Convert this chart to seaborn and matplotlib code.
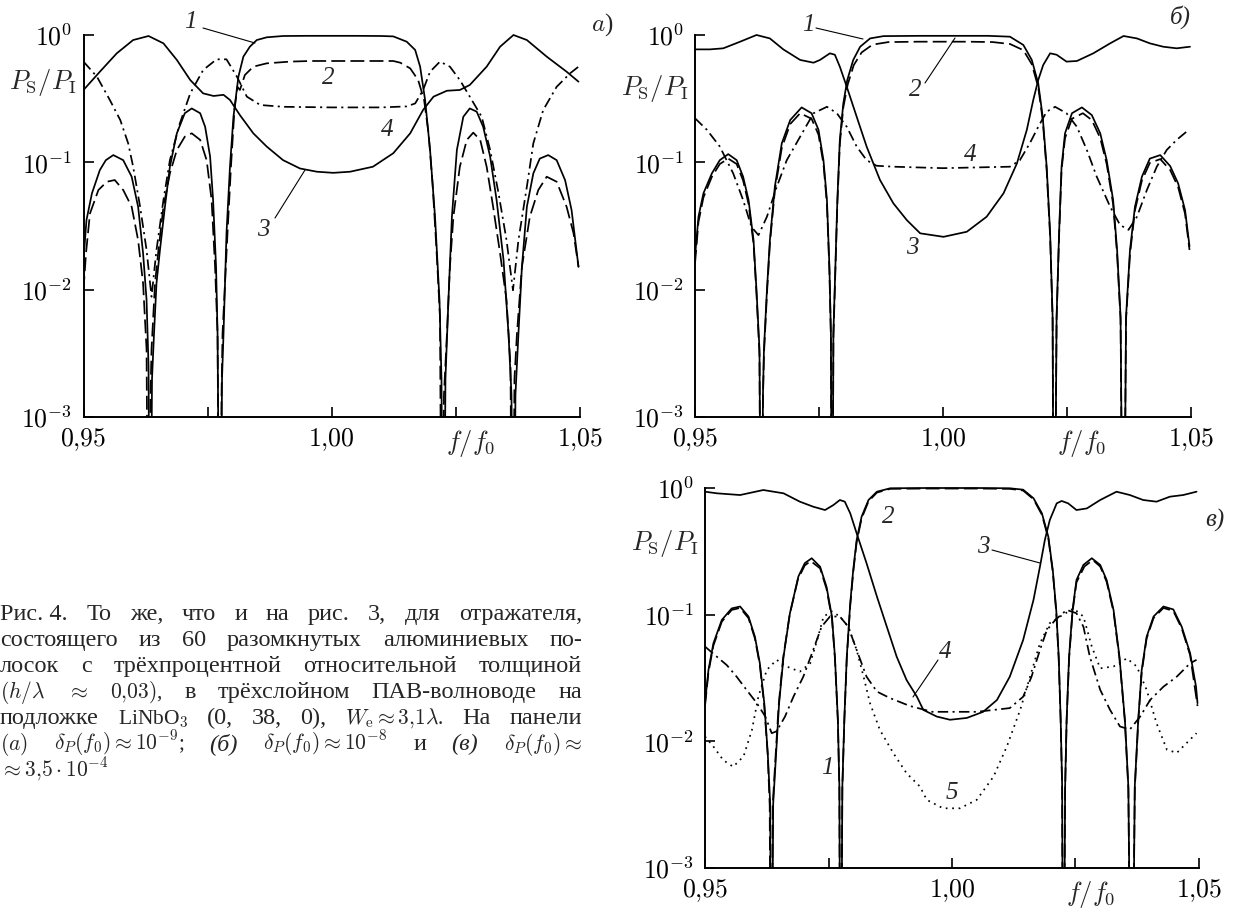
import matplotlib
matplotlib.use("Agg")
import matplotlib.pyplot as plt
import pandas as pd
import seaborn as sns
from matplotlib.lines import Line2D
from matplotlib.ticker import NullLocator


W, H = 1235, 914

##############################################################################
# DATA  (f / f0 , P_S / P_I)
##############################################################################

# panel a
A1 = [(0.9500, 0.0171), (0.9506, 0.0352), (0.9517, 0.0571), (0.9533, 0.0871), (0.9545, 0.104),
      (0.9560, 0.114), (0.9580, 0.104), (0.9597, 0.0771), (0.9610, 0.0448), (0.9620, 0.0193),
      (0.9627, 0.0083), (0.9631, 0.0025), (0.9634, 1e-5), (0.9638, 0.0020), (0.9642, 0.0045),
      (0.9647, 0.0112), (0.9654, 0.0205), (0.9664, 0.0448), (0.9674, 0.0924), (0.9688, 0.169),
      (0.9704, 0.243), (0.9718, 0.265), (0.9735, 0.243), (0.9745, 0.190), (0.9755, 0.111),
      (0.9761, 0.0506), (0.9767, 0.0151), (0.9770, 0.0045), (0.9775, 1e-5), (0.9779, 0.0020),
      (0.9782, 0.0045), (0.9785, 0.0112), (0.9788, 0.0277), (0.9795, 0.0924), (0.9802, 0.228),
      (0.9812, 0.471), (0.9822, 0.676), (0.9835, 0.809), (0.9849, 0.913), (0.9869, 0.959),
      (0.9902, 0.982), (0.9950, 0.985), (1.0000, 0.985), (1.0050, 0.985), (1.0100, 0.982),
      (1.0124, 0.975), (1.0151, 0.886), (1.0168, 0.763), (1.0178, 0.564), (1.0188, 0.309),
      (1.0198, 0.125), (1.0208, 0.0374), (1.0217, 0.0083), (1.0221, 0.0020), (1.0225, 1e-5),
      (1.0229, 0.0020), (1.0235, 0.0083), (1.0242, 0.0374), (1.0252, 0.125), (1.0265, 0.228),
      (1.0278, 0.265), (1.0292, 0.250), (1.0305, 0.190), (1.0319, 0.111), (1.0332, 0.0506),
      (1.0346, 0.0171), (1.0356, 0.0045), (1.0362, 0.0015), (1.0366, 1e-5), (1.0370, 0.0015),
      (1.0376, 0.0045), (1.0383, 0.0151), (1.0393, 0.0448), (1.0406, 0.0819), (1.0419, 0.107),
      (1.0436, 0.114), (1.0453, 0.104), (1.0470, 0.0724), (1.0483, 0.0422), (1.0497, 0.0151)]

A2 = [(0.9500, 0.0099), (0.9505, 0.0193), (0.9513, 0.0396), (0.9530, 0.0606), (0.9547, 0.0704),
      (0.9563, 0.0726), (0.9580, 0.0606), (0.9597, 0.0448), (0.9610, 0.0245), (0.9620, 0.0112),
      (0.9627, 0.0034), (0.9631, 1e-5), (0.9635, 0.0015), (0.9637, 0.0034), (0.9644, 0.0112),
      (0.9651, 0.0205), (0.9661, 0.0448), (0.9674, 0.0819), (0.9688, 0.125), (0.9704, 0.159),
      (0.9718, 0.169), (0.9735, 0.150), (0.9748, 0.104), (0.9758, 0.0506), (0.9765, 0.0151),
      (0.9770, 0.0045), (0.9774, 1e-5), (0.9778, 0.0015), (0.9780, 0.0045), (0.9785, 0.0112),
      (0.9790, 0.0277), (0.9797, 0.0924), (0.9804, 0.258), (0.9810, 0.392), (0.9815, 0.370),
      (0.9825, 0.485), (0.9842, 0.564), (0.9869, 0.599), (0.9916, 0.618), (0.9957, 0.625),
      (1.0050, 0.625), (1.0124, 0.625), (1.0138, 0.606), (1.0158, 0.547), (1.0174, 0.443),
      (1.0186, 0.309), (1.0195, 0.169), (1.0203, 0.0684), (1.0211, 0.0205), (1.0218, 0.0061),
      (1.0222, 1e-5), (1.0226, 0.0015), (1.0232, 0.0045), (1.0238, 0.0151), (1.0245, 0.0374),
      (1.0258, 0.0924), (1.0272, 0.150), (1.0285, 0.171), (1.0299, 0.150), (1.0312, 0.0924),
      (1.0325, 0.0448), (1.0339, 0.0193), (1.0352, 0.0083), (1.0360, 0.0025), (1.0364, 1e-5),
      (1.0368, 0.0020), (1.0373, 0.0045), (1.0383, 0.0151), (1.0399, 0.0374), (1.0416, 0.0606),
      (1.0433, 0.0771), (1.0453, 0.0704), (1.0473, 0.0448), (1.0487, 0.0277), (1.0497, 0.0151)]

A3 = [(0.9500, 0.370), (0.9533, 0.515), (0.9567, 0.718), (0.9600, 0.913), (0.9631, 0.982),
      (0.9661, 0.860), (0.9688, 0.637), (0.9715, 0.443), (0.9741, 0.348), (0.9762, 0.332),
      (0.9782, 0.339), (0.9795, 0.309), (0.9815, 0.235), (0.9842, 0.169), (0.9869, 0.133),
      (0.9902, 0.104), (0.9936, 0.0895), (0.9970, 0.0844), (1.0003, 0.0827), (1.0037, 0.0844),
      (1.0083, 0.0924), (1.0124, 0.118), (1.0158, 0.169), (1.0184, 0.258), (1.0205, 0.328),
      (1.0232, 0.365), (1.0258, 0.370), (1.0278, 0.405), (1.0312, 0.564), (1.0339, 0.809),
      (1.0366, 1.000), (1.0393, 0.913), (1.0433, 0.676), (1.0473, 0.515), (1.0497, 0.430)]

A4 = [(0.9500, 0.618), (0.9527, 0.471), (0.9553, 0.309), (0.9574, 0.215), (0.9590, 0.141),
      (0.9600, 0.0924), (0.9614, 0.0448), (0.9627, 0.0205), (0.9637, 0.0088), (0.9647, 0.0205),
      (0.9661, 0.0506), (0.9674, 0.104), (0.9694, 0.202), (0.9715, 0.348), (0.9741, 0.531),
      (0.9768, 0.644), (0.9788, 0.644), (0.9809, 0.471), (0.9829, 0.328), (0.9856, 0.282),
      (0.9902, 0.273), (1.0000, 0.270), (1.0100, 0.270), (1.0151, 0.275), (1.0168, 0.290),
      (1.0184, 0.370), (1.0198, 0.515), (1.0218, 0.618), (1.0238, 0.564), (1.0258, 0.443),
      (1.0278, 0.328), (1.0302, 0.228), (1.0319, 0.125), (1.0336, 0.057), (1.0352, 0.0245),
      (1.0365, 0.0099), (1.0376, 0.0245), (1.0393, 0.0645), (1.0406, 0.141), (1.0426, 0.258),
      (1.0453, 0.392), (1.0480, 0.500), (1.0497, 0.564)]

# panel б
B1 = [(0.9500, 0.0181), (0.9507, 0.0374), (0.9517, 0.0571), (0.9534, 0.0819), (0.9550, 0.104),
      (0.9567, 0.116), (0.9584, 0.104), (0.9597, 0.0771), (0.9608, 0.0506), (0.9618, 0.0245),
      (0.9624, 0.0099), (0.9630, 0.0034), (0.9634, 1e-5), (0.9637, 0.0015), (0.9639, 0.0034),
      (0.9645, 0.0099), (0.9651, 0.0245), (0.9661, 0.0645), (0.9675, 0.141), (0.9692, 0.215),
      (0.9715, 0.270), (0.9735, 0.243), (0.9749, 0.180), (0.9759, 0.104), (0.9766, 0.0506),
      (0.9771, 0.0151), (0.9774, 0.0045), (0.97765, 1e-5), (0.9779, 0.0045), (0.9783, 0.0151),
      (0.9787, 0.0506), (0.9792, 0.150), (0.9799, 0.290), (0.9807, 0.443), (0.9819, 0.637),
      (0.9833, 0.809), (0.9853, 0.940), (0.9880, 0.980), (0.9950, 0.985), (1.0050, 0.985),
      (1.0091, 0.985), (1.0135, 0.970), (1.0162, 0.835), (1.0179, 0.637), (1.0192, 0.417),
      (1.0201, 0.228), (1.0209, 0.0924), (1.0216, 0.0277), (1.0221, 0.0061), (1.0224, 1e-5),
      (1.0229, 0.0061), (1.0234, 0.0277), (1.0239, 0.0924), (1.0246, 0.169), (1.0260, 0.243),
      (1.0280, 0.270), (1.0300, 0.235), (1.0317, 0.169), (1.0330, 0.104), (1.0343, 0.0506),
      (1.0351, 0.0205), (1.0358, 0.0061), (1.0364, 1e-5), (1.0369, 0.0061), (1.0377, 0.0205),
      (1.0387, 0.0448), (1.0401, 0.0771), (1.0417, 0.107), (1.0438, 0.114), (1.0458, 0.0935),
      (1.0474, 0.0684), (1.0488, 0.0422), (1.0497, 0.0219)]

B2 = [(0.9500, 0.0160), (0.9507, 0.0340), (0.9517, 0.0530), (0.9534, 0.0770), (0.9550, 0.0970),
      (0.9567, 0.107), (0.9584, 0.0970), (0.9597, 0.0720), (0.9608, 0.0470), (0.9618, 0.0230),
      (0.9624, 0.0092), (0.9630, 0.0031), (0.9633, 1e-5), (0.9637, 0.0014), (0.9639, 0.0031),
      (0.9645, 0.0092), (0.9651, 0.0230), (0.9661, 0.0600), (0.9675, 0.130), (0.9692, 0.200),
      (0.9712, 0.243), (0.9735, 0.220), (0.9749, 0.165), (0.9759, 0.097), (0.9766, 0.0470),
      (0.9771, 0.0140), (0.9774, 0.0042), (0.97763, 1e-5), (0.9779, 0.0042), (0.9783, 0.0140),
      (0.9787, 0.0470), (0.9792, 0.140), (0.9799, 0.270), (0.9808, 0.410), (0.9820, 0.580),
      (0.9836, 0.730), (0.9858, 0.840), (0.9890, 0.880), (0.9950, 0.886), (1.0050, 0.886),
      (1.0100, 0.880), (1.0135, 0.850), (1.0162, 0.760), (1.0179, 0.590), (1.0192, 0.390),
      (1.0201, 0.215), (1.0209, 0.087), (1.0216, 0.026), (1.0221, 0.0058), (1.02237, 1e-5),
      (1.0229, 0.0058), (1.0234, 0.026), (1.0239, 0.087), (1.0246, 0.155), (1.0260, 0.220),
      (1.0282, 0.243), (1.0300, 0.215), (1.0317, 0.155), (1.0330, 0.097), (1.0343, 0.0470),
      (1.0351, 0.0190), (1.0358, 0.0058), (1.03635, 1e-5), (1.0369, 0.0058), (1.0377, 0.0190),
      (1.0387, 0.0420), (1.0401, 0.0720), (1.0417, 0.0990), (1.0438, 0.106), (1.0458, 0.0870),
      (1.0474, 0.0640), (1.0488, 0.0395), (1.0497, 0.0205)]

B3 = [(0.9500, 0.771), (0.9530, 0.771), (0.9557, 0.786), (0.9591, 0.886), (0.9624, 1.000),
      (0.9651, 0.940), (0.9678, 0.771), (0.9712, 0.637), (0.9739, 0.606), (0.9752, 0.637),
      (0.9772, 0.718), (0.9782, 0.700), (0.9792, 0.564), (0.9806, 0.392), (0.9826, 0.228),
      (0.9846, 0.133), (0.9873, 0.0726), (0.9900, 0.0476), (0.9927, 0.0352), (0.9954, 0.0277),
      (1.0001, 0.0260), (1.0048, 0.0285), (1.0088, 0.0374), (1.0122, 0.0571), (1.0149, 0.098),
      (1.0169, 0.180), (1.0182, 0.309), (1.0192, 0.443), (1.0202, 0.581), (1.0216, 0.718),
      (1.0229, 0.700), (1.0249, 0.618), (1.0270, 0.625), (1.0303, 0.718), (1.0337, 0.860),
      (1.0364, 0.982), (1.0391, 0.940), (1.0417, 0.860), (1.0444, 0.809), (1.0471, 0.786),
      (1.0498, 0.809)]

B4 = [(0.9500, 0.222), (0.9524, 0.180), (0.9550, 0.133), (0.9577, 0.0819), (0.9597, 0.0506),
      (0.9614, 0.031), (0.9628, 0.0268), (0.9645, 0.0374), (0.9665, 0.0645), (0.9685, 0.104),
      (0.9712, 0.159), (0.9739, 0.243), (0.9766, 0.273), (0.9786, 0.243), (0.9806, 0.190),
      (0.9826, 0.133), (0.9846, 0.104), (0.9866, 0.094), (0.9900, 0.0924), (1.0000, 0.0900),
      (1.0135, 0.0924), (1.0155, 0.104), (1.0175, 0.141), (1.0192, 0.190), (1.0209, 0.250),
      (1.0226, 0.273), (1.0249, 0.243), (1.0270, 0.190), (1.0290, 0.125), (1.0310, 0.0771),
      (1.0337, 0.0448), (1.0357, 0.0322), (1.0374, 0.0295), (1.0391, 0.0374), (1.0411, 0.0606),
      (1.0431, 0.0924), (1.0451, 0.125), (1.0471, 0.150), (1.0491, 0.174)]

# panel в
C1 = [(0.9500, 0.0200), (0.9507, 0.0366), (0.9517, 0.0594), (0.9534, 0.0908), (0.9554, 0.112),
      (0.9571, 0.116), (0.9588, 0.0967), (0.9601, 0.0670), (0.9611, 0.0413), (0.9620, 0.0200),
      (0.9627, 0.0081), (0.9632, 0.0032), (0.96345, 1e-5), (0.9638, 0.0032), (0.9644, 0.0081),
      (0.9650, 0.0200), (0.9659, 0.0466), (0.9672, 0.103), (0.9689, 0.200), (0.9702, 0.255),
      (0.9716, 0.279), (0.9733, 0.239), (0.9746, 0.166), (0.9757, 0.0967), (0.9763, 0.0466),
      (0.9769, 0.0148), (0.9772, 0.0044), (0.97747, 1e-5), (0.9778, 0.0044), (0.9782, 0.0148),
      (0.9787, 0.0466), (0.9794, 0.123), (0.9800, 0.225), (0.9807, 0.389), (0.9817, 0.594),
      (0.9831, 0.804), (0.9848, 0.935), (0.9875, 0.995), (0.9950, 1.000), (1.0050, 1.000),
      (1.0117, 0.995), (1.0144, 0.970), (1.0165, 0.830), (1.0182, 0.631), (1.0195, 0.413),
      (1.0204, 0.225), (1.0211, 0.109), (1.0216, 0.0466), (1.0220, 0.0148), (1.0223, 0.0044),
      (1.02253, 1e-5), (1.0229, 0.0044), (1.0232, 0.0148), (1.0237, 0.0466), (1.0244, 0.109),
      (1.0252, 0.188), (1.0266, 0.247), (1.0283, 0.279), (1.0300, 0.247), (1.0313, 0.188),
      (1.0327, 0.109), (1.0339, 0.0466), (1.0350, 0.0148), (1.0357, 0.0044), (1.03638, 1e-5),
      (1.0370, 0.0044), (1.0377, 0.0148), (1.0384, 0.0366), (1.0394, 0.0670), (1.0408, 0.0967),
      (1.0428, 0.116), (1.0448, 0.110), (1.0465, 0.0804), (1.0482, 0.0497), (1.0494, 0.0270),
      (1.0497, 0.0200)]

C2 = [(0.9500, 0.0190), (0.9507, 0.0350), (0.9517, 0.0570), (0.9534, 0.0880), (0.9554, 0.109),
      (0.9571, 0.113), (0.9588, 0.0940), (0.9601, 0.0650), (0.9611, 0.0400), (0.9620, 0.0190),
      (0.9627, 0.0078), (0.9631, 0.0031), (0.96335, 1e-5), (0.9637, 0.0031), (0.9643, 0.0078),
      (0.9649, 0.0190), (0.9658, 0.0450), (0.9671, 0.098), (0.9688, 0.190), (0.9702, 0.245),
      (0.9714, 0.265), (0.9733, 0.232), (0.9746, 0.160), (0.9757, 0.0930), (0.9763, 0.0450),
      (0.9769, 0.0143), (0.9772, 0.0042), (0.97740, 1e-5), (0.9778, 0.0042), (0.9782, 0.0143),
      (0.9787, 0.0450), (0.9794, 0.118), (0.9800, 0.215), (0.9807, 0.375), (0.9817, 0.575),
      (0.9831, 0.785), (0.9848, 0.920), (0.9875, 0.985), (0.9950, 0.990), (1.0050, 0.990),
      (1.0117, 0.985), (1.0144, 0.955), (1.0165, 0.815), (1.0182, 0.615), (1.0195, 0.400),
      (1.0204, 0.218), (1.0211, 0.105), (1.0216, 0.0450), (1.0220, 0.0143), (1.0223, 0.0042),
      (1.02245, 1e-5), (1.0229, 0.0042), (1.0232, 0.0143), (1.0237, 0.0450), (1.0244, 0.105),
      (1.0252, 0.180), (1.0268, 0.240), (1.0285, 0.270), (1.0300, 0.240), (1.0313, 0.182),
      (1.0327, 0.105), (1.0339, 0.0450), (1.0350, 0.0143), (1.0357, 0.0042), (1.03630, 1e-5),
      (1.0370, 0.0042), (1.0377, 0.0143), (1.0384, 0.0350), (1.0394, 0.0650), (1.0408, 0.0940),
      (1.0428, 0.113), (1.0448, 0.107), (1.0465, 0.0780), (1.0482, 0.0480), (1.0497, 0.0190)]

C3 = [(0.9500, 0.935), (0.9524, 0.908), (0.9571, 0.880), (0.9618, 0.964), (0.9659, 0.908),
      (0.9692, 0.780), (0.9719, 0.712), (0.9743, 0.670), (0.9760, 0.734), (0.9773, 0.804),
      (0.9783, 0.780), (0.9794, 0.631), (0.9807, 0.439), (0.9827, 0.255), (0.9848, 0.139),
      (0.9868, 0.0804), (0.9888, 0.0466), (0.9908, 0.0305), (0.9929, 0.0225), (0.9942, 0.0177),
      (0.9969, 0.0157), (0.9996, 0.0148), (1.0030, 0.0153), (1.0063, 0.0171), (1.0091, 0.0212),
      (1.0117, 0.0324), (1.0144, 0.0631), (1.0165, 0.131), (1.0178, 0.239), (1.0188, 0.389),
      (1.0198, 0.559), (1.0212, 0.757), (1.0222, 0.790), (1.0235, 0.757), (1.0252, 0.670),
      (1.0273, 0.690), (1.0300, 0.804), (1.0333, 0.935), (1.0360, 0.880), (1.0387, 0.804),
      (1.0414, 0.780), (1.0441, 0.854), (1.0468, 0.880), (1.0495, 0.935)]

C4 = [(0.9500, 0.0560), (0.9520, 0.0480), (0.9544, 0.0400), (0.9564, 0.0324), (0.9584, 0.0255),
      (0.9605, 0.0200), (0.9622, 0.0157), (0.9635, 0.0116), (0.9645, 0.0120), (0.9662, 0.0157),
      (0.9679, 0.0225), (0.9699, 0.0324), (0.9719, 0.0526), (0.9736, 0.0804), (0.9753, 0.0967),
      (0.9773, 0.0967), (0.9790, 0.0804), (0.9807, 0.0526), (0.9827, 0.0324), (0.9848, 0.0247),
      (0.9875, 0.0219), (0.9915, 0.0190), (0.9960, 0.0171), (1.0050, 0.0171), (1.0117, 0.0183),
      (1.0144, 0.0225), (1.0161, 0.0324), (1.0178, 0.0526), (1.0192, 0.0755), (1.0209, 0.0908),
      (1.0232, 0.109), (1.0252, 0.1026), (1.0266, 0.0804), (1.0279, 0.0466), (1.0300, 0.0255),
      (1.0320, 0.0177), (1.0340, 0.0131), (1.0360, 0.0124), (1.0381, 0.0157), (1.0401, 0.0212),
      (1.0428, 0.0270), (1.0455, 0.0324), (1.0482, 0.0413), (1.0495, 0.0440)]

C5 = [(0.9500, 0.0109), (0.9517, 0.0091), (0.9537, 0.0071), (0.9557, 0.0063), (0.9578, 0.0076),
      (0.9595, 0.0123), (0.9608, 0.0225), (0.9625, 0.0366), (0.9645, 0.0440), (0.9665, 0.0390),
      (0.9692, 0.0355), (0.9713, 0.0413), (0.9729, 0.0670), (0.9740, 0.0967), (0.9757, 0.106),
      (0.9773, 0.0967), (0.9790, 0.0804), (0.9807, 0.0526), (0.9821, 0.0324), (0.9834, 0.0200),
      (0.9854, 0.0123), (0.9881, 0.0081), (0.9908, 0.0056), (0.9935, 0.0044), (0.9949, 0.00345),
      (0.9982, 0.00296), (1.0016, 0.00296), (1.0050, 0.00345), (1.0084, 0.00526), (1.0111, 0.0091),
      (1.0138, 0.0177), (1.0158, 0.0324), (1.0178, 0.0594), (1.0198, 0.0858), (1.0219, 0.0967),
      (1.0246, 0.112), (1.0266, 0.0967), (1.0283, 0.0560), (1.0300, 0.0377), (1.0327, 0.0390),
      (1.0354, 0.0452), (1.0374, 0.0390), (1.0394, 0.0255), (1.0414, 0.0139), (1.0435, 0.0086),
      (1.0455, 0.0081), (1.0475, 0.0097), (1.0495, 0.0116)]

X_TICKS = [0.95, 0.975, 1.00, 1.025, 1.05]
X_TICKLABELS = [r"$0{,}95$", "", r"$1{,}00$", "", r"$1{,}05$"]
Y_TICKS = [1e-3, 1e-2, 1e-1, 1e0]
Y_TICKLABELS = [r"$10^{-3}$", r"$10^{-2}$", r"$10^{-1}$", r"$10^{0}$"]

DASHES = {"1": "", "2": (8, 3), "3": "", "4": (6, 2.5, 1.2, 2.5), "5": (1.0, 2.7)}

CAPTION = [
    ["Рис. 4.", "То", "же,", "что", "и", "на", "рис.", "3,", "для", "отражателя,"],
    ["состоящего", "из", "60", "разомкнутых", "алюминиевых", "по-"],
    ["лосок", "с", "трёхпроцентной", "относительной", "толщиной"],
    [r"$(h/\lambda$", r"$\approx$", r"$0{,}03)$,", "в", "трёхслойном", "ПАВ-волноводе", "на"],
    ["подложке", r"LiNbO$_3$", "(0,", "38,", "0),", r"$W_{\rm e}\approx3{,}1\lambda$.", "На", "панели"],
    [r"$(a)$", r"$\delta_P(f_0)\approx10^{-9}$;", "(б)", r"$\delta_P(f_0)\approx10^{-8}$",
     "и", "(в)", r"$\delta_P(f_0)\approx$"],
    [r"$\approx3{,}5\cdot10^{-4}$"],
]
ITALIC = {"(б)", "(в)"}


##############################################################################
# STYLE
##############################################################################

sns.set_style("ticks")
plt.rcParams.update({
    "font.family": ["Liberation Serif", "DejaVu Serif"],
    "mathtext.fontset": "cm",
    "axes.linewidth": 1.4,
    "axes.edgecolor": "black",
    "xtick.color": "black",
    "ytick.color": "black",
})

fig = plt.figure(figsize=(W / 100, H / 100), dpi=100)


def px(x, y):
    return x / W, 1 - y / H


def panel_rect(x0, x1, y_top, y_bot, top=1.1):
    # y_top: pixel of 10^0, y_bot: pixel of 10^-3
    import math
    dec = (y_bot - y_top) / 3.0
    top_px = y_top - dec * math.log10(top)
    return [x0 / W, 1 - y_bot / H, (x1 - x0) / W, (y_bot - top_px) / H]


PANELS = [
    ("a", {"1": A1, "2": A2, "3": A3, "4": A4}, (83.5, 580, 35, 417), 0.865),
    ("b", {"1": B1, "2": B2, "3": B3, "4": B4}, (695, 1191, 35, 417), 0.848),
    ("c", {"1": C1, "2": C2, "3": C3, "4": C4, "5": C5}, (705, 1199, 488, 868), 0.842),
]

for name, curves, geom, ylab_y in PANELS:
    rows = []
    for key, pts in curves.items():
        for f, p in pts:
            rows.append({"curve": key, "f": f, "P": p})
    df = pd.DataFrame(rows)

    ax = fig.add_axes(panel_rect(*geom))
    ax.set_yscale("log")
    sns.lineplot(data=df, x="f", y="P", style="curve", style_order=list(curves.keys()),
                 dashes=DASHES, color="black", linewidth=1.25, estimator=None,
                 sort=False, legend=False, ax=ax)

    ax.set_xlim(0.95, 1.05)
    ax.set_ylim(1e-3, 1.1)
    ax.set_xlabel("")
    ax.set_ylabel("")
    ax.set_xticks(X_TICKS)
    ax.set_xticklabels(X_TICKLABELS)
    ax.set_yticks(Y_TICKS)
    ax.set_yticklabels(Y_TICKLABELS)
    ax.xaxis.set_minor_locator(NullLocator())
    ax.yaxis.set_minor_locator(NullLocator())
    ax.tick_params(direction="in", length=7, width=1.2, labelsize=18.5)
    ax.tick_params(axis="y", pad=8)
    ax.tick_params(axis="x", pad=7)
    sns.despine(ax=ax)
    ax.spines["left"].set_bounds(1e-3, 1.0)
    ax.set_facecolor("none")

    ax.text(-0.014, ylab_y, r"$P_{\mathrm{S}}/P_{\mathrm{I}}$", transform=ax.transAxes,
            ha="right", va="center", fontsize=19)
    ax.text(0.78, -0.068, r"$f/f_0$", transform=ax.transAxes,
            ha="center", va="center", fontsize=19)


##############################################################################
# CURVE NUMBERS, PANEL TAGS
##############################################################################

NUMBERS = [("1", 190, 22), ("2", 328, 78), ("4", 387, 130), ("3", 263, 230),
           ("1", 808, 25), ("2", 915, 90), ("4", 970, 155), ("3", 912, 248),
           ("2", 888, 517), ("3", 983, 547), ("4", 945, 652), ("1", 827, 768), ("5", 952, 793)]
LEADERS = [((203, 28), (255, 43)), ((275, 218), (305, 170)),
           ((816, 28), (863, 39)), ((925, 83), (955, 38)),
           ((992, 550), (1040, 563)), ((938, 660), (913, 697))]

for s, x, y in NUMBERS:
    fig.text(*px(x, y), s, fontsize=18, style="italic", ha="center", va="center")

for (x0, y0), (x1, y1) in LEADERS:
    a0, b0 = px(x0, y0)
    a1, b1 = px(x1, y1)
    fig.add_artist(Line2D([a0, a1], [b0, b1], color="black", lw=0.8,
                          transform=fig.transFigure))

fig.text(*px(602, 25), r"$a$)", fontsize=18, ha="center", va="center")
fig.text(*px(1180, 17), "б)", fontsize=18, style="italic", ha="center", va="center")
fig.text(*px(1215, 520), "в)", fontsize=18, style="italic", ha="center", va="center")


##############################################################################
# CAPTION (justified)
##############################################################################

renderer = fig.canvas.get_renderer()
LEFT, RIGHT = 0, 582

for i, tokens in enumerate(CAPTION):
    y = 1 - (620 + 26 * i) / H
    texts = []
    for tok in tokens:
        size = 15.5 if "$" in tok else 17.5
        texts.append(fig.text(0, y, tok, fontsize=size, va="baseline", ha="left",
                              style="italic" if tok in ITALIC else "normal"))
    widths = [t.get_window_extent(renderer).width for t in texts]
    if i < len(CAPTION) - 1 and len(tokens) > 1:
        gap = (RIGHT - LEFT - sum(widths)) / (len(tokens) - 1)
    else:
        gap = 7
    x = LEFT
    for t, w in zip(texts, widths):
        t.set_x(x / W)
        x += w + gap

fig.savefig("out.png", dpi=100)
